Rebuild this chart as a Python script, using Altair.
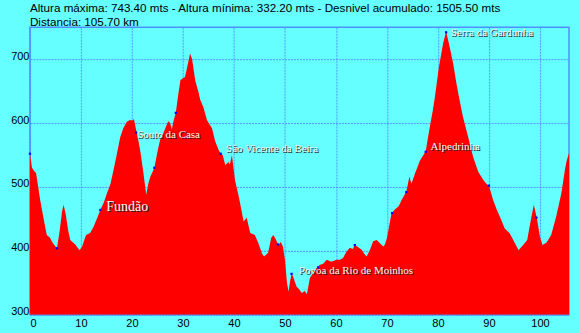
import altair as alt
import pandas as pd

# Elevation profile (km, metres)
km = [0.0, 0.4, 0.8, 1.2, 2.0, 2.8, 3.3, 3.9, 4.5, 5.3, 5.8, 6.3, 6.6, 7.0, 7.5, 7.9, 8.9, 9.7,
      10.2, 10.7, 11.0, 11.8, 12.5, 13.2, 13.8, 14.5, 15.1, 15.8, 16.4, 17.0, 17.7, 18.3, 19.0,
      19.6, 20.0, 20.4, 20.8, 21.2, 21.6, 22.2, 22.8, 23.2, 23.6, 24.4, 25.0, 25.5, 26.2, 26.7,
      27.1, 27.5, 27.8, 28.2, 28.6, 29.0, 29.5, 30.0, 30.4, 30.9, 31.4, 31.8, 32.4, 33.0, 33.4,
      34.0, 34.7, 35.2, 35.7, 36.3, 37.0, 37.4, 37.8, 38.3, 38.9, 39.2, 39.6, 40.2, 40.8, 41.2,
      41.9, 42.5, 43.2, 44.1, 44.8, 45.5, 45.9, 46.7, 47.3, 47.7, 48.2, 48.7, 49.2, 49.6, 50.0,
      50.4, 50.7, 51.0, 51.3, 51.6, 52.0, 52.3, 52.8, 53.3, 53.9, 54.3, 54.6, 54.9, 55.5, 56.2,
      56.8, 57.5, 58.2, 59.1, 60.1, 60.8, 61.4, 62.0, 62.7, 63.3, 63.7, 64.3, 65.0, 65.5, 66.0,
      66.6, 67.3, 68.0, 68.6, 69.3, 69.6, 70.0, 70.3, 70.9, 71.6, 72.3, 72.9, 73.8, 74.4, 74.8,
      75.5, 76.5, 77.0, 77.6, 78.0, 78.4, 79.0, 79.4, 80.2, 81.0, 81.6, 82.3, 83.0, 83.5, 84.0,
      84.9, 85.9, 86.9, 87.9, 88.9, 89.5, 90.0, 90.8, 91.5, 92.1, 93.1, 94.1, 95.1, 95.8, 96.7,
      97.5, 98.2, 98.8, 99.4, 100.0, 100.5, 101.3, 102.2, 103.2, 104.2, 104.9, 105.2, 105.7]
elev = [552, 530, 525, 522, 480, 445, 425, 421, 412, 404, 430, 462, 472, 458, 432, 417, 410, 401,
        406, 418, 425, 428, 438, 452, 464, 476, 490, 505, 527, 550, 578, 592, 602,
        605, 604, 606, 590, 575, 558, 525, 488, 505, 516, 530, 555, 573, 585, 595,
        603, 600, 590, 605, 616, 640, 667, 670, 672, 690, 709, 700, 667, 650, 636,
        625, 605, 598, 592, 572, 558, 552, 550, 534, 539, 535, 550, 511, 490, 475,
        446, 452, 428, 425, 412, 396, 391, 397, 420, 425, 418, 409, 414, 407, 386,
        350, 336, 352, 364, 360, 350, 344, 340, 334, 337, 332.2, 345, 358, 365, 373,
        378, 380, 386, 383, 386, 386, 389, 398, 405, 403, 409, 406, 402, 396, 391,
        400, 415, 417, 412, 407, 410, 420, 433, 459, 465, 470, 480, 493, 516, 505,
        521, 542, 548, 556, 575, 594, 620, 641, 688, 724, 743.4, 719, 693, 668, 646,
        610, 579, 547, 524, 511, 505, 502, 480, 465, 454, 435, 427, 412, 401, 409,
        417, 448, 472, 451, 422, 409, 413, 425, 454, 490, 527, 540, 553]

# Waypoint markers
wp_km = [0.0, 5.3, 13.8, 20.8, 24.4, 28.6, 37.4, 48.6, 51.3, 56.5, 63.7, 71.0, 73.8, 77.6,
         81.6, 90.0, 99.3]
wp_elev = [552, 404, 464, 585, 530, 616, 552, 410, 364, 374, 409, 459, 492, 555, 742, 502, 452]

# Place names (text anchor: left / middle)
lab_name = ["Fundão", "Souto da Casa", "São Vicente da Beira", "Povoa da Rio de Moinhos",
            "Serra da Gardunha", "Alpedrinha"]
lab_km = [14.96, 21.03, 38.46, 52.76, 82.53, 78.55]
lab_elev = [469, 581, 559, 369, 741, 562]
lab_size = [14, 11, 11, 11, 11, 11]

title_lines = ["Altura máxima: 743.40 mts - Altura mínima: 332.20 mts - Desnivel acumulado: 1505.50 mts",
               "Distancia: 105.70 km"]

prof = pd.DataFrame({"km": km, "elev": elev})
wps = pd.DataFrame({"km": wp_km, "elev": wp_elev})
labs = pd.DataFrame({"km": lab_km, "elev": lab_elev, "name": lab_name, "size": lab_size})

xscale = alt.Scale(domain=[0, 105.7], nice=False)
yscale = alt.Scale(domain=[300, 750], nice=False, zero=False)

area = alt.Chart(prof).mark_area(color="#ff0000", clip=True, interpolate="linear").encode(
    x=alt.X("km:Q", scale=xscale,
            axis=alt.Axis(values=list(range(0, 101, 10)), title=None, grid=True, tickSize=0,
                          labelPadding=3, domain=False)),
    y=alt.Y("elev:Q", scale=yscale,
            axis=alt.Axis(values=list(range(300, 751, 50)), title=None, grid=True, tickSize=0,
                          labelPadding=1, labelBaseline="alphabetic", domain=False)),
    y2=alt.datum(300),
)

dots = alt.Chart(wps).mark_square(size=5, color="#0000ff", opacity=1).encode(
    x=alt.X("km:Q", scale=xscale), y=alt.Y("elev:Q", scale=yscale))

shadow = alt.Chart(labs).mark_text(align="left", baseline="middle", font="Liberation Serif",
                                   color="#222222", dx=1, dy=1).encode(
    x=alt.X("km:Q", scale=xscale), y=alt.Y("elev:Q", scale=yscale), text="name:N",
    size=alt.Size("size:Q", scale=None, legend=None))
text = alt.Chart(labs).mark_text(align="left", baseline="middle", font="Liberation Serif",
                                 color="#f4f4f4").encode(
    x=alt.X("km:Q", scale=xscale), y=alt.Y("elev:Q", scale=yscale), text="name:N",
    size=alt.Size("size:Q", scale=None, legend=None))

chart = alt.layer(area, dots, shadow, text).properties(
    width=540, height=288,
    title=alt.TitleParams(text=title_lines, anchor="start", frame="group", fontSize=11.7,
                          font="Liberation Sans", fontWeight="normal", color="black",
                          lineHeight=14, offset=1, dy=3),
    background="#66ffff",
    autosize=alt.AutoSizeParams(type="none"),
    padding={"left": 30, "top": 27, "right": 11, "bottom": 18},
).configure_view(stroke="#4f8fff", strokeWidth=1.5, fill="#66ffff").configure_axis(
    gridColor="#4f7fff", gridDash=[2, 1], gridOpacity=0.8, gridWidth=1,
    labelFont="Liberation Sans", labelFontSize=11, labelColor="black")

chart.save("out.html", embed_options={"renderer": "svg", "actions": False})
